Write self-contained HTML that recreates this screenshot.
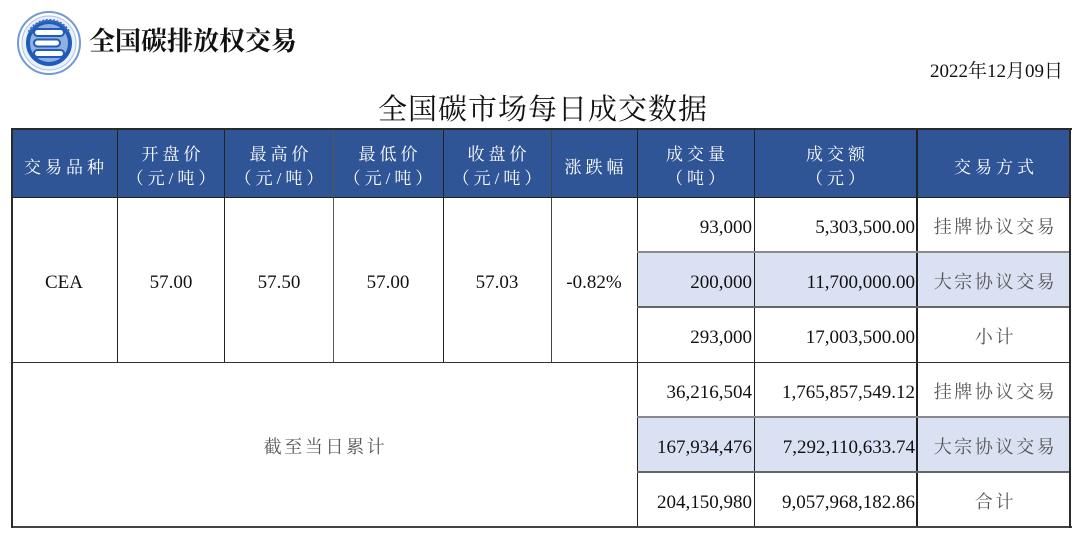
<!DOCTYPE html>
<html><head><meta charset="utf-8">
<style>
html,body{margin:0;padding:0;background:#fff;}
#c{position:relative;width:1080px;height:538px;overflow:hidden;background:#fff;}
.a{position:absolute;}
.t{position:absolute;text-align:center;white-space:nowrap;}
.hd{color:#fff;font-family:"Liberation Serif","Noto Serif CJK SC",serif;font-size:17px;letter-spacing:4px;line-height:24px;}
.num{font-family:"Liberation Serif","Noto Serif CJK SC",serif;font-size:19px;color:#111;line-height:55px;white-space:nowrap;padding-top:3px;}
.cj{font-family:"Liberation Serif","Noto Serif CJK SC",serif;font-size:18px;color:#555;letter-spacing:2.6px;line-height:55px;padding-top:3px;}
.v{position:absolute;width:1px;background:#333;}
.h{position:absolute;height:1px;background:#333;}
</style></head><body>
<div id="c">
<!-- logo -->
<svg class="a" style="left:16px;top:10px" width="66" height="66" viewBox="0 0 66 66">
  <circle cx="33" cy="33" r="31" fill="#fff" stroke="#6f9ad6" stroke-width="2"/>
  <circle cx="33" cy="33" r="27" fill="#eaf1fb" stroke="#a9c3ea" stroke-width="1"/>
  <circle cx="33" cy="33" r="21" fill="#8fb0e2" stroke="#1f5cb8" stroke-width="4"/>
  <rect x="18" y="19" width="30" height="7" rx="3.5" fill="#fff" stroke="#1f5cb8" stroke-width="2"/>
  <rect x="18" y="29.5" width="26" height="7" rx="3.5" fill="#fff" stroke="#1f5cb8" stroke-width="2"/>
  <rect x="18" y="40" width="30" height="7" rx="3.5" fill="#fff" stroke="#1f5cb8" stroke-width="2"/>
  <path d="M13 22 A23 23 0 0 1 53 22" fill="none" stroke="#3d6fc4" stroke-width="3" stroke-dasharray="2 1.5"/>
</svg>
<div class="a" style="left:89px;top:26px;font-family:'Liberation Serif','Noto Serif CJK SC',serif;font-weight:bold;font-size:26px;line-height:32px;color:#111;white-space:nowrap;">全国碳排放权交易</div>

<div class="a" style="left:930px;top:60px;font-family:'Liberation Serif','Noto Serif CJK SC',serif;font-size:19px;line-height:24px;color:#111;white-space:nowrap;">2022年12月09日</div>

<div class="a" style="left:378px;top:94px;font-family:'Liberation Serif','Noto Serif CJK SC',serif;font-size:29px;letter-spacing:1px;line-height:32px;color:#111;white-space:nowrap;">全国碳市场每日成交数据</div>

<!-- backgrounds -->
<div class="a" style="left:11px;top:130px;width:1060px;height:67px;background:#2F5597;"></div>
<div class="a" style="left:637px;top:252px;width:434px;height:55px;background:#D9E1F2;"></div>
<div class="a" style="left:637px;top:417px;width:434px;height:55px;background:#D9E1F2;"></div>

<!-- header text -->
<div class="t hd" style="left:11px;width:110px;top:156px;">交易品种</div>
<div class="t hd" style="left:117px;width:112px;top:143px;">开盘价<br>（元/吨）</div>
<div class="t hd" style="left:225px;width:112px;top:143px;">最高价<br>（元/吨）</div>
<div class="t hd" style="left:333px;width:114px;top:143px;">最低价<br>（元/吨）</div>
<div class="t hd" style="left:443px;width:112px;top:143px;">收盘价<br>（元/吨）</div>
<div class="t hd" style="left:551px;width:90px;top:156px;">涨跌幅</div>
<div class="t hd" style="left:637px;width:121px;top:143px;">成交量<br>（吨）</div>
<div class="t hd" style="left:754px;width:167px;top:143px;">成交额<br>（元）</div>
<div class="t hd" style="left:917px;width:158px;top:156px;">交易方式</div>

<!-- left data -->
<div class="t num" style="left:11px;width:106px;top:252px;">CEA</div>
<div class="t num" style="left:117px;width:108px;top:252px;">57.00</div>
<div class="t num" style="left:225px;width:108px;top:252px;">57.50</div>
<div class="t num" style="left:333px;width:110px;top:252px;">57.00</div>
<div class="t num" style="left:443px;width:108px;top:252px;">57.03</div>
<div class="t num" style="left:551px;width:86px;top:252px;">-0.82%</div>
<div class="t cj" style="left:11px;width:629px;top:417px;">截至当日累计</div>

<!-- right data -->
<div class="a num" style="left:637px;width:115px;top:197px;text-align:right;">93,000</div>
<div class="a num" style="left:754px;width:161px;top:197px;text-align:right;">5,303,500.00</div>
<div class="t cj" style="left:917px;width:157px;top:197px;">挂牌协议交易</div>

<div class="a num" style="left:637px;width:115px;top:252px;text-align:right;">200,000</div>
<div class="a num" style="left:754px;width:161px;top:252px;text-align:right;">11,700,000.00</div>
<div class="t cj" style="left:917px;width:157px;top:252px;">大宗协议交易</div>

<div class="a num" style="left:637px;width:115px;top:307px;text-align:right;">293,000</div>
<div class="a num" style="left:754px;width:161px;top:307px;text-align:right;">17,003,500.00</div>
<div class="t cj" style="left:917px;width:157px;top:307px;">小计</div>

<div class="a num" style="left:637px;width:115px;top:362px;text-align:right;">36,216,504</div>
<div class="a num" style="left:754px;width:161px;top:362px;text-align:right;">1,765,857,549.12</div>
<div class="t cj" style="left:917px;width:157px;top:362px;">挂牌协议交易</div>

<div class="a num" style="left:637px;width:115px;top:417px;text-align:right;">167,934,476</div>
<div class="a num" style="left:754px;width:161px;top:417px;text-align:right;">7,292,110,633.74</div>
<div class="t cj" style="left:917px;width:157px;top:417px;">大宗协议交易</div>

<div class="a num" style="left:637px;width:115px;top:472px;text-align:right;">204,150,980</div>
<div class="a num" style="left:754px;width:161px;top:472px;text-align:right;">9,057,968,182.86</div>
<div class="t cj" style="left:917px;width:157px;top:472px;">合计</div>

<!-- header lines -->
<div class="v" style="left:117px;top:130px;height:232px;background:#222;"></div>
<div class="v" style="left:224px;top:130px;height:232px;background:#222;"></div>
<div class="v" style="left:333px;top:130px;height:232px;background:#555;"></div>
<div class="v" style="left:443px;top:130px;height:232px;background:#222;"></div>
<div class="v" style="left:551px;top:130px;height:232px;background:#444;"></div>
<div class="v" style="left:637px;top:130px;height:397px;background:#222;"></div>
<div class="v" style="left:754px;top:130px;height:397px;background:#222;"></div>
<div class="v" style="left:916px;top:130px;height:397px;width:2px;background:#222;"></div>
<div class="h" style="left:11px;top:197px;width:1060px;background:#222;"></div>
<div class="h" style="left:11px;top:362px;width:1060px;background:#333;"></div>
<div class="h" style="left:637px;top:251px;width:434px;height:2px;background:#8a8a8a;"></div>
<div class="h" style="left:637px;top:306px;width:434px;height:2px;background:#666;"></div>
<div class="h" style="left:637px;top:416px;width:434px;height:2px;background:#8a8a8a;"></div>
<div class="h" style="left:637px;top:471px;width:434px;height:2px;background:#666;"></div>

<!-- outer border -->
<div class="h" style="left:11px;top:128px;width:1061px;height:2px;background:#2a2a2a;"></div>
<div class="h" style="left:11px;top:526px;width:1061px;height:2px;background:#444;"></div>
<div class="v" style="left:11px;top:128px;height:400px;width:2px;background:#2a2a2a;"></div>
<div class="v" style="left:1069px;top:128px;height:400px;width:2px;background:#2a2a2a;"></div>
</div>
</body></html>
